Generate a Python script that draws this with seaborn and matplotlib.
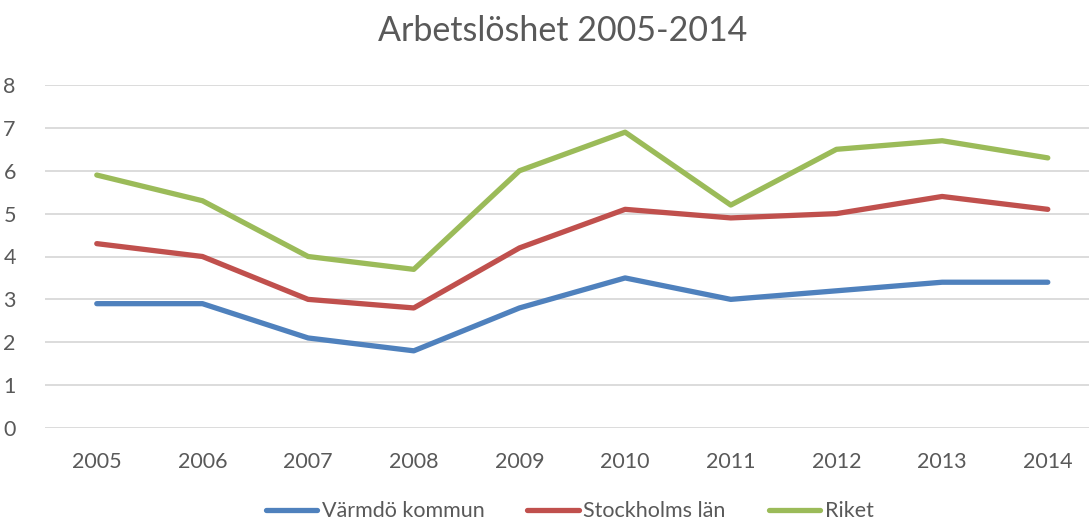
import matplotlib
matplotlib.use("Agg")
import matplotlib.pyplot as plt
import pandas as pd
import seaborn as sns

years = ["2005", "2006", "2007", "2008", "2009", "2010", "2011", "2012", "2013", "2014"]
varmdo = [2.9, 2.9, 2.1, 1.8, 2.8, 3.5, 3.0, 3.2, 3.4, 3.4]
stockholm = [4.3, 4.0, 3.0, 2.8, 4.2, 5.1, 4.9, 5.0, 5.4, 5.1]
riket = [5.9, 5.3, 4.0, 3.7, 6.0, 6.9, 5.2, 6.5, 6.7, 6.3]
series_names = ["Värmdö kommun", "Stockholms län", "Riket"]
colors = ["#4F81BD", "#C0504D", "#9BBB59"]

df = pd.DataFrame({"year": years * 3,
                   "x": list(range(len(years))) * 3,
                   "value": varmdo + stockholm + riket,
                   "serie": [series_names[0]] * 10 + [series_names[1]] * 10 + [series_names[2]] * 10})

sns.set_style("white")
plt.rcParams['font.family'] = ['Lato', 'DejaVu Sans']
text_color = "#595959"

fig = plt.figure(figsize=(10.89, 5.2), dpi=100)
ax = fig.add_axes([45 / 1089, 1 - 428 / 520, 1 - 45 / 1089, (428 - 85) / 520])

sns.lineplot(data=df, x="x", y="value", hue="serie", palette=colors,
             linewidth=3.8, ax=ax, solid_capstyle="round", legend=False)

ax.set_xlim(-0.49, 9.39)
ax.set_ylim(0, 8)
ax.set_yticks(range(0, 9))
ax.set_xticks(range(len(years)))
ax.set_xticklabels(years)
ax.grid(axis="y", color="#D9D9D9", linewidth=1.3)
ax.set_axisbelow(True)
for s in ax.spines.values():
    s.set_visible(False)
ax.tick_params(axis="both", length=0, labelsize=15.5, labelcolor=text_color)
ax.tick_params(axis="x", pad=17)
ax.tick_params(axis="y", pad=21)
ax.set_xlabel("")
ax.set_ylabel("")

fig.text(0.517, 0.94, "Arbetslöshet 2005-2014", ha="center", va="center",
         fontsize=24.5, color=text_color)

handles = [plt.Line2D([], [], color=c, linewidth=3.8, solid_capstyle="round") for c in colors]
fig.legend(handles, series_names, loc="lower center", bbox_to_anchor=(0.523, -0.031),
           ncol=3, frameon=False, fontsize=15.5, labelcolor=text_color,
           handlelength=2.4, columnspacing=2.0, handletextpad=0.2, borderpad=0.2)

fig.savefig("out.png", dpi=100)
